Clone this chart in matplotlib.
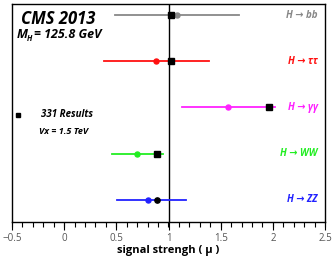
import matplotlib
matplotlib.use('Agg')
import matplotlib.pyplot as plt
import numpy as np

# channels top -> bottom
channels = ['H → bb', 'H → ττ', 'H → γγ', 'H → WW', 'H → ZZ']
colors = ['#888888', '#ff1111', '#ff22ff', '#22ee22', '#2222ff']
row_y = [5, 4, 3, 2, 1]
err_lo = [0.49, 0.38, 1.13, 0.455, 0.51]
err_hi = [1.68, 1.39, 2.02, 0.95, 1.17]
mu_cms = [1.08, 0.88, 1.57, 0.70, 0.80]
mu_results = [1.02, 1.02, 1.96, 0.89, 0.89]
result_marker = ['s', 's', 's', 's', 'o']
xticks = [-0.5, 0, 0.5, 1, 1.5, 2, 2.5]
xticklabels = ['−0.5', '0', '0.5', '1', '1.5', '2', '2.5']

plt.rcParams['font.family'] = ['Open Sans', 'DejaVu Sans']

fig = plt.figure(figsize=(3.34, 2.64), dpi=100)
ax = fig.add_axes([12 / 334, 1 - 222 / 264, 313 / 334, 218 / 264])

ax.axvline(1.0, color='black', lw=1.0, zorder=1)
for i in range(len(channels)):
    ax.plot([err_lo[i], err_hi[i]], [row_y[i], row_y[i]], color=colors[i], lw=1.3, zorder=2)
    ax.plot(mu_cms[i], row_y[i], 'o', color=colors[i], ms=3.6, zorder=3)
    ax.plot(mu_results[i], row_y[i], result_marker[i], color='black',
            ms=4.2 if result_marker[i] == 's' else 3.8, zorder=4)
    ax.text(2.43, row_y[i], channels[i], color=colors[i], fontsize=7,
            fontweight='bold', fontstyle='italic', ha='right', va='center')

ax.set_xlim(-0.5, 2.5)
ax.set_ylim(0.52, 5.24)
ax.set_yticks([])
ax.set_xticks(xticks)
ax.set_xticklabels(xticklabels)
ax.tick_params(axis='x', which='major', length=0, labelsize=7,
               labelcolor='#555555', pad=8)

# tick marks drawn below the axis
minor = np.arange(-0.5, 2.51, 0.1)
xt = ax.get_xaxis_transform()
ax.vlines(minor, -0.025, 0, color='black', lw=0.8, transform=xt, clip_on=False)
ax.vlines(xticks, -0.035, 0, color='black', lw=0.8, transform=xt, clip_on=False)

for s in ax.spines.values():
    s.set_linewidth(1.0)

ax.set_xlabel('signal strengh ( μ )', fontsize=8, fontweight='bold', labelpad=1)

ax.text(-0.41, 4.92, 'CMS 2013', fontsize=12, fontweight='bold', fontstyle='italic',
        va='center', ha='left')
ax.text(-0.46, 4.57, 'M', fontsize=9, fontweight='bold', fontstyle='italic',
        va='center', ha='left')
ax.text(-0.36, 4.49, 'H', fontsize=5.5, fontweight='bold', fontstyle='italic',
        va='center', ha='left')
ax.text(-0.29, 4.57, '= 125.8 GeV', fontsize=9, fontweight='bold', fontstyle='italic',
        va='center', ha='left')
ax.plot(-0.44, 2.84, 's', color='black', ms=3.5)
ax.text(-0.22, 2.84, '331 Results', fontsize=7, fontweight='bold', fontstyle='italic',
        va='center', ha='left')
ax.text(-0.24, 2.49, 'Vx = 1.5 TeV', fontsize=6.5, fontweight='bold', fontstyle='italic',
        va='center', ha='left')

fig.savefig('out.png', dpi=100)
